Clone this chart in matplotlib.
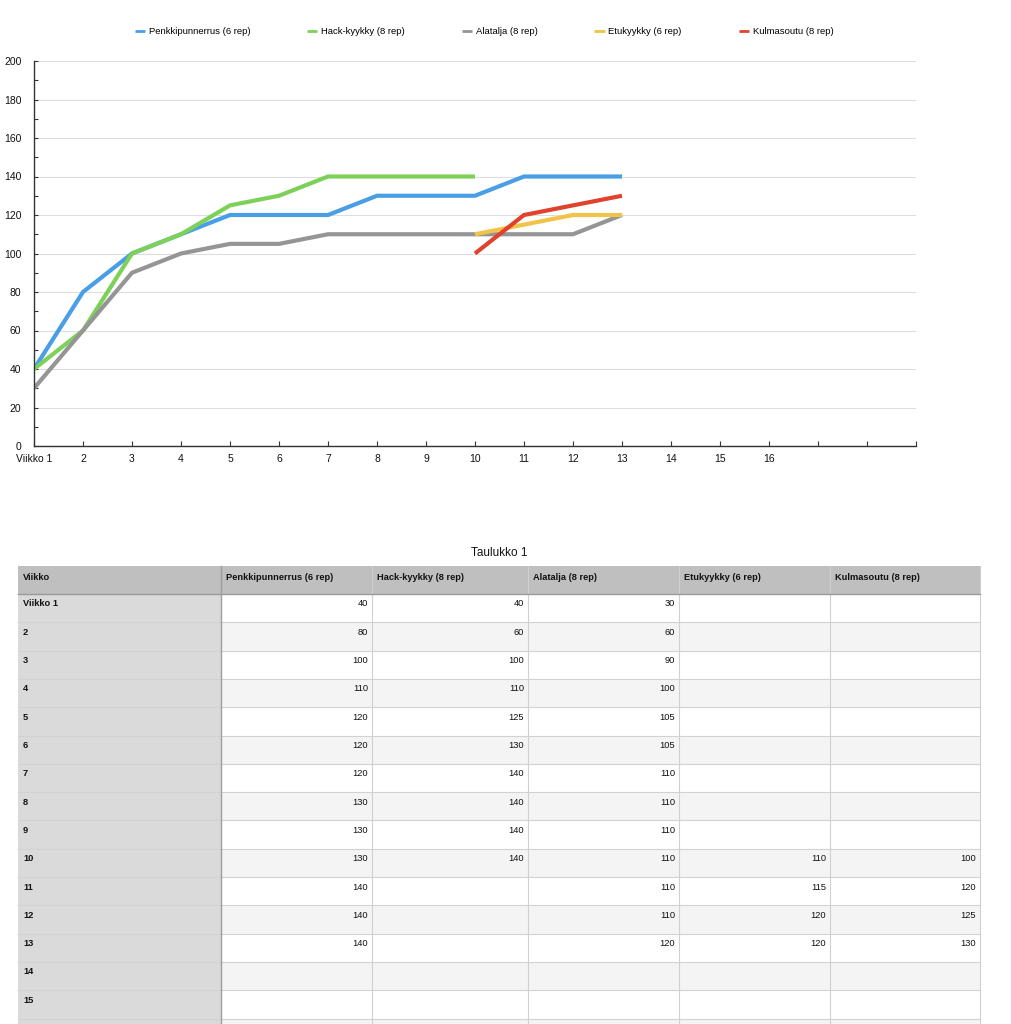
import numpy as np
import matplotlib
matplotlib.use("Agg")
import matplotlib.pyplot as plt
from matplotlib.patches import Rectangle
from matplotlib.ticker import MultipleLocator

plt.rcParams['font.family'] = ['Liberation Sans', 'DejaVu Sans']

nan = np.nan
weeks = ["Viikko 1"] + [str(i) for i in range(2, 17)]
series_names = ["Penkkipunnerrus (6 rep)", "Hack-kyykky (8 rep)", "Alatalja (8 rep)",
                "Etukyykky (6 rep)", "Kulmasoutu (8 rep)"]
penkki = [40, 80, 100, 110, 120, 120, 120, 130, 130, 130, 140, 140, 140, nan, nan, nan]
hack = [40, 60, 100, 110, 125, 130, 140, 140, 140, 140, nan, nan, nan, nan, nan, nan]
alatalja = [30, 60, 90, 100, 105, 105, 110, 110, 110, 110, 110, 110, 120, nan, nan, nan]
etukyykky = [nan, nan, nan, nan, nan, nan, nan, nan, nan, 110, 115, 120, 120, nan, nan, nan]
kulmasoutu = [nan, nan, nan, nan, nan, nan, nan, nan, nan, 100, 120, 125, 130, nan, nan, nan]
series = [penkki, hack, alatalja, etukyykky, kulmasoutu]
colors = ["#4a9ee6", "#7dd159", "#959595", "#f0c448", "#e0432d"]
table_title = "Taulukko 1"
header_first = "Viikko"

W, H = 1012, 1024
fig = plt.figure(figsize=(W / 100, H / 100), dpi=100)

# ---------------- chart ----------------
L, R, T, B = 34, 916, 61, 446
ax = fig.add_axes([L / W, 1 - B / H, (R - L) / W, (B - T) / H])
x = np.arange(len(weeks))
for vals, name, c in zip(series, series_names, colors):
    ax.plot(x, vals, color=c, lw=3.0, label=name, solid_capstyle='butt', solid_joinstyle='miter')

n_slots = 19
ax.set_xlim(0, n_slots - 1)
ax.set_ylim(0, 200)
ax.set_xticks(np.arange(n_slots))
ax.set_xticklabels(weeks + [""] * (n_slots - len(weeks)))
ax.yaxis.set_major_locator(MultipleLocator(20))
ax.yaxis.set_minor_locator(MultipleLocator(10))
ax.tick_params(axis='x', direction='in', length=3.5, width=0.8, color='#333333',
               labelsize=7.5, pad=6, labelcolor='#111111')
ax.tick_params(axis='y', which='major', direction='in', length=3, width=0.8, color='#333333',
               labelsize=7.5, pad=9, labelcolor='#111111')
ax.tick_params(axis='y', which='minor', direction='in', length=3, width=0.8, color='#333333')
ax.grid(axis='y', which='major', color='#dedede', lw=0.8)
ax.set_axisbelow(True)
for s in ['top', 'right']:
    ax.spines[s].set_visible(False)
for s in ['left', 'bottom']:
    ax.spines[s].set_color('#333333')
    ax.spines[s].set_linewidth(1.0)

leg = fig.legend(loc='center', bbox_to_anchor=(484 / W, 1 - 32 / H), ncol=5, frameon=False,
                 fontsize=6.8, handlelength=1.1, handletextpad=0.4, columnspacing=6.0)
for h in leg.get_lines():
    h.set_linewidth(2)

# ---------------- table ----------------
tax = fig.add_axes([0, 0, 1, 1])
tax.set_xlim(0, W)
tax.set_ylim(H, 0)
tax.axis('off')

tax.text(499, 553, table_title, ha='center', va='center', fontsize=8.5, color='#111111')

col_edges = [18, 221, 372, 528, 679, 830, 980]
head_top, head_bot = 566, 594
row_h = 28.3
fs = 6.7

# header
tax.add_patch(Rectangle((col_edges[0], head_top), col_edges[-1] - col_edges[0], head_bot - head_top,
                        facecolor='#bfbfbf', edgecolor='none'))
headers = [header_first] + series_names
for j, htxt in enumerate(headers):
    tax.text(col_edges[j] + 5, head_top + 11, htxt, ha='left', va='center',
             fontsize=fs, fontweight='bold', color='#111111')

for i, wk in enumerate(weeks):
    top = head_bot + i * row_h
    bg = '#ffffff' if i % 2 == 0 else '#f4f4f4'
    tax.add_patch(Rectangle((col_edges[1], top), col_edges[-1] - col_edges[1], row_h,
                            facecolor=bg, edgecolor='none'))
    tax.add_patch(Rectangle((col_edges[0], top), col_edges[1] - col_edges[0], row_h,
                            facecolor='#dadada', edgecolor='none'))
    if top + 16 < H:
        tax.text(col_edges[0] + 5, top + 10, wk, ha='left', va='center', fontsize=fs,
                 fontweight='bold', color='#111111')
        for j, vals in enumerate(series):
            v = vals[i]
            if not np.isnan(v):
                tax.text(col_edges[j + 2] - 4, top + 10, f"{int(v)}", ha='right', va='center',
                         fontsize=fs, color='#111111')
    # horizontal separator
    tax.plot([col_edges[0], col_edges[-1]], [top + row_h, top + row_h], color='#d2d2d2', lw=0.8)

bottom = head_bot + len(weeks) * row_h
for j, xe in enumerate(col_edges):
    if j == 0:
        continue
    c = '#9e9e9e' if j == 1 else '#d0d0d0'
    tax.plot([xe, xe], [head_top, bottom], color=c, lw=0.8 if j > 1 else 1.0)
tax.plot([col_edges[0], col_edges[-1]], [head_bot, head_bot], color='#9a9a9a', lw=1.0)

fig.savefig("out.png", dpi=100, facecolor='white')
